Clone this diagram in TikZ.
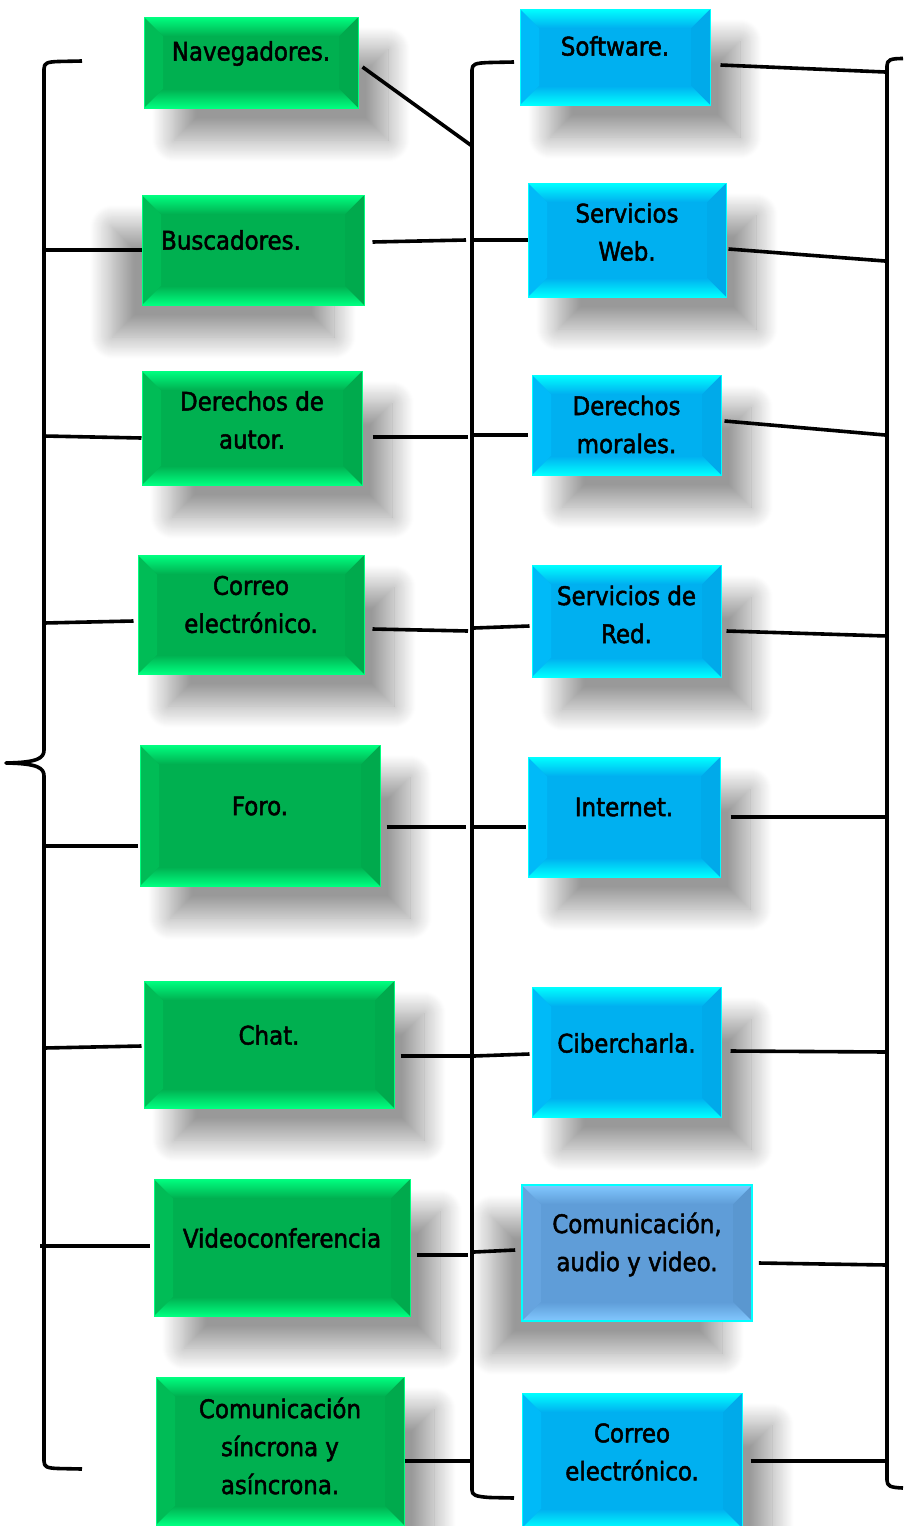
\documentclass[tikz,border=0pt]{standalone}
\usepackage{fontspec}
\setmainfont[FakeBold=1.9]{DejaVu Sans Condensed}
\usetikzlibrary{shadows.blur,calc}
\definecolor{gface}{HTML}{00B050}
\definecolor{glight}{HTML}{00FF80}
\definecolor{gleft}{HTML}{00BC56}
\definecolor{gright}{HTML}{00AA4D}
\definecolor{bface}{HTML}{00B0F0}
\definecolor{blight}{HTML}{00FFFF}
\definecolor{bleft}{HTML}{00BAF8}
\definecolor{bright}{HTML}{00AAEA}
\definecolor{cface}{HTML}{5F9DD8}
\definecolor{clight}{HTML}{82C8FF}
\definecolor{cleft}{HTML}{66A4DF}
\definecolor{cright}{HTML}{5A97D0}
\def\bev{19pt}
\tikzset{
  bevelbox/.style n args={4}{rectangle, inner sep=0pt, fill=#1,
    path picture={
      \path (path picture bounding box.north west) coordinate (pnw)
            (path picture bounding box.north east) coordinate (pne)
            (path picture bounding box.south west) coordinate (psw)
            (path picture bounding box.south east) coordinate (pse);
      \fill[#3] (pnw) -- ([shift={(\bev,-\bev)}]pnw) -- ([shift={(\bev,\bev)}]psw) -- (psw) -- cycle;
      \fill[#4] (pne) -- ([shift={(-\bev,-\bev)}]pne) -- ([shift={(-\bev,\bev)}]pse) -- (pse) -- cycle;
      \shade[top color=#2, bottom color=#1] (pnw) -- (pne) -- ([shift={(-\bev,-\bev)}]pne) -- ([shift={(\bev,-\bev)}]pnw) -- cycle;
      \shade[top color=#1, bottom color=#2] (psw) -- (pse) -- ([shift={(-\bev,\bev)}]pse) -- ([shift={(\bev,\bev)}]psw) -- cycle;
    }},
  gbox/.style={bevelbox={gface}{glight}{gleft}{gright}, draw=glight, line width=1pt},
  bbox/.style={bevelbox={bface}{blight}{bleft}{bright}, draw=blight, line width=1pt},
  cbox/.style={bevelbox={cface}{clight}{cleft}{cright}, draw=blight, line width=1.6pt},
  shd/.style={blur shadow={shadow xshift=30pt, shadow yshift=-32pt, shadow blur radius=22pt, shadow blur steps=24, shadow opacity=40}},
  shdl/.style={blur shadow={shadow xshift=-30pt, shadow yshift=-32pt, shadow blur radius=22pt, shadow blur steps=24, shadow opacity=40}},
  lbl/.style={font=\fontsize{25.5}{38}\selectfont, align=center, text=black, inner sep=0pt},
  conn/.style={line width=3.6pt, black},
  brk/.style={line width=3.6pt, black, line join=round},
}
\begin{document}
\begin{tikzpicture}[x=1pt,y=-1pt]
\useasboundingbox (0,0) rectangle (903,1526);

% green boxes
\node[gbox, shd, minimum width=214pt, minimum height=91pt,
  label={[lbl,yshift=9pt]center:Navegadores.}] (g1) at (251,62.5) {};
\node[gbox, shdl, minimum width=222pt, minimum height=110pt,
  label={[lbl,yshift=10pt,xshift=-22pt]center:Buscadores.}] (g2) at (253,250) {};
\node[gbox, shd, minimum width=220pt, minimum height=114pt,
  label={[lbl,yshift=8pt]center:Derechos de\\autor.}] (g3) at (252,428) {};
\node[gbox, shd, minimum width=226pt, minimum height=119pt,
  label={[lbl,yshift=10pt]center:Correo\\electrónico.}] (g4) at (251,614.5) {};
\node[gbox, shd, minimum width=240pt, minimum height=141pt,
  label={[lbl,yshift=9.5pt]center:Foro.}] (g5) at (260,815.5) {};
\node[gbox, shd, minimum width=250pt, minimum height=127pt,
  label={[lbl,yshift=9.5pt]center:Chat.}] (g6) at (269,1044.5) {};
\node[gbox, shd, minimum width=256pt, minimum height=137pt,
  label={[lbl,yshift=9.5pt]center:Videoconferencia}] (g7) at (282,1247.5) {};
\node[gbox, shd, minimum width=248pt, minimum height=148pt,
  label={[lbl,yshift=5pt]center:Comunicación\\síncrona y\\asíncrona.}] (g8) at (280,1451) {};

% blue boxes
\node[bbox, shd, minimum width=190pt, minimum height=96pt,
  label={[lbl,yshift=11pt]center:Software.}] (b1) at (615,57) {};
\node[bbox, shd, minimum width=198pt, minimum height=114pt,
  label={[lbl,yshift=8pt]center:Servicios\\Web.}] (b2) at (627,240) {};
\node[bbox, shd, minimum width=189pt, minimum height=100pt,
  label={[lbl,yshift=0.5pt]center:Derechos\\morales.}] (b3) at (626.5,425) {};
\node[bbox, shd, minimum width=189pt, minimum height=112pt,
  label={[lbl,yshift=6.5pt]center:Servicios de\\Red.}] (b4) at (626.5,621) {};
\node[bbox, shd, minimum width=192pt, minimum height=120pt,
  label={[lbl,yshift=10pt]center:Internet.}] (b5) at (624,817) {};
\node[bbox, shd, minimum width=189pt, minimum height=130pt,
  label={[lbl,yshift=9pt]center:Cibercharla.}] (b6) at (626.5,1052) {};
\node[cbox, shdl, minimum width=230pt, minimum height=136pt,
  label={[lbl,yshift=8.5pt]center:Comunicación,\\audio y video.}] (b7) at (637,1253) {};
\node[bbox, shd, minimum width=220pt, minimum height=135pt,
  label={[lbl,yshift=8.5pt]center:Correo\\electrónico.}] (b8) at (632,1460.5) {};

% bracket coordinates
\coordinate (l2) at (44,250);
\coordinate (l3) at (44,436);
\coordinate (l4) at (44,623);
\coordinate (l5) at (44,846);
\coordinate (l6) at (44,1048);
\coordinate (l7) at (40,1246);
\coordinate (m1) at (472,146);
\coordinate (m2a) at (466,240);
\coordinate (m2b) at (472,240);
\coordinate (m3a) at (468,437);
\coordinate (m3b) at (470,435);
\coordinate (m4a) at (468,631);
\coordinate (m4b) at (474,628);
\coordinate (m5a) at (466,827);
\coordinate (m5b) at (474,827);
\coordinate (m6a) at (470,1056);
\coordinate (m6b) at (474,1056);
\coordinate (m7a) at (468,1255);
\coordinate (m7b) at (474,1252);
\coordinate (m8) at (472,1461);
\coordinate (r1) at (885,72);
\coordinate (r2) at (885,261);
\coordinate (r3) at (885,435);
\coordinate (r4) at (887,636);
\coordinate (r5) at (887,817);
\coordinate (r6) at (887,1052);
\coordinate (r7) at (887,1265);
\coordinate (r8) at (887,1461);

% brackets
\draw[brk] (82,61) -- (58,61.5) .. controls (47,62) and (44,63) .. (44,69)
  -- (44,750) .. controls (44,758) and (38,762.5) .. (6,763)
  .. controls (38,763.5) and (44,768) .. (44,776)
  -- (44,1461) .. controls (44,1467) and (47,1468) .. (58,1468.5) -- (82,1469);
\draw[brk] (514,62) -- (490,62.5) .. controls (475,63) and (472,64) .. (472,70)
  -- (472,1490) .. controls (472,1495) and (475,1496.5) .. (490,1497.5) -- (514,1498);
\draw[brk] (903,58.5) .. controls (890,58.5) and (887,60) .. (887,66)
  -- (887,1480) .. controls (887,1486) and (890,1487.5) .. (903,1488);

% left connectors
\draw[conn] (l2) -- (g2.west);
\draw[conn] (l3) -- ([shift={(0pt,-10pt)}]g3.west);
\draw[conn] (l4) -- ([shift={(-4pt,-6.5pt)}]g4.west);
\draw[conn] (l5) -- ([shift={(-2pt,-30.5pt)}]g5.west);
\draw[conn] (l6) -- ([shift={(-2pt,-1.5pt)}]g6.west);
\draw[conn] (l7) -- ([shift={(-4pt,1.5pt)}]g7.west);

% middle connectors
\draw[conn] ([shift={(4pt,-4.5pt)}]g1.east) -- (m1);
\draw[conn] ([shift={(8pt,8pt)}]g2.east) -- (m2a);
\draw[conn] (m2b) -- (b2.west);
\draw[conn] ([shift={(10pt,-9pt)}]g3.east) -- (m3a);
\draw[conn] (m3b) -- ([shift={(-4pt,-10pt)}]b3.west);
\draw[conn] ([shift={(8pt,-14.5pt)}]g4.east) -- (m4a);
\draw[conn] (m4b) -- ([shift={(-2pt,-5pt)}]b4.west);
\draw[conn] ([shift={(6pt,-11.5pt)}]g5.east) -- (m5a);
\draw[conn] (m5b) -- ([shift={(-2pt,-10pt)}]b5.west);
\draw[conn] ([shift={(6pt,-11.5pt)}]g6.east) -- (m6a);
\draw[conn] (m6b) -- ([shift={(-2pt,-2pt)}]b6.west);
\draw[conn] ([shift={(6pt,-7.5pt)}]g7.east) -- (m7a);
\draw[conn] (m7b) -- ([shift={(-6pt,3pt)}]b7.west);
\draw[conn] ([shift={(0pt,-10pt)}]g8.east) -- (m8);

% right connectors
\draw[conn] ([shift={(10pt,-8pt)}]b1.east) -- (r1);
\draw[conn] ([shift={(2pt,-9pt)}]b2.east) -- (r2);
\draw[conn] ([shift={(3pt,4pt)}]b3.east) -- (r3);
\draw[conn] ([shift={(5pt,-10pt)}]b4.east) -- (r4);
\draw[conn] ([shift={(10pt,0pt)}]b5.east) -- (r5);
\draw[conn] ([shift={(9pt,1pt)}]b6.east) -- (r6);
\draw[conn] ([shift={(6pt,-10pt)}]b7.east) -- (r7);
\draw[conn] ([shift={(8pt,-0.5pt)}]b8.east) -- (r8);
\end{tikzpicture}
\end{document}
